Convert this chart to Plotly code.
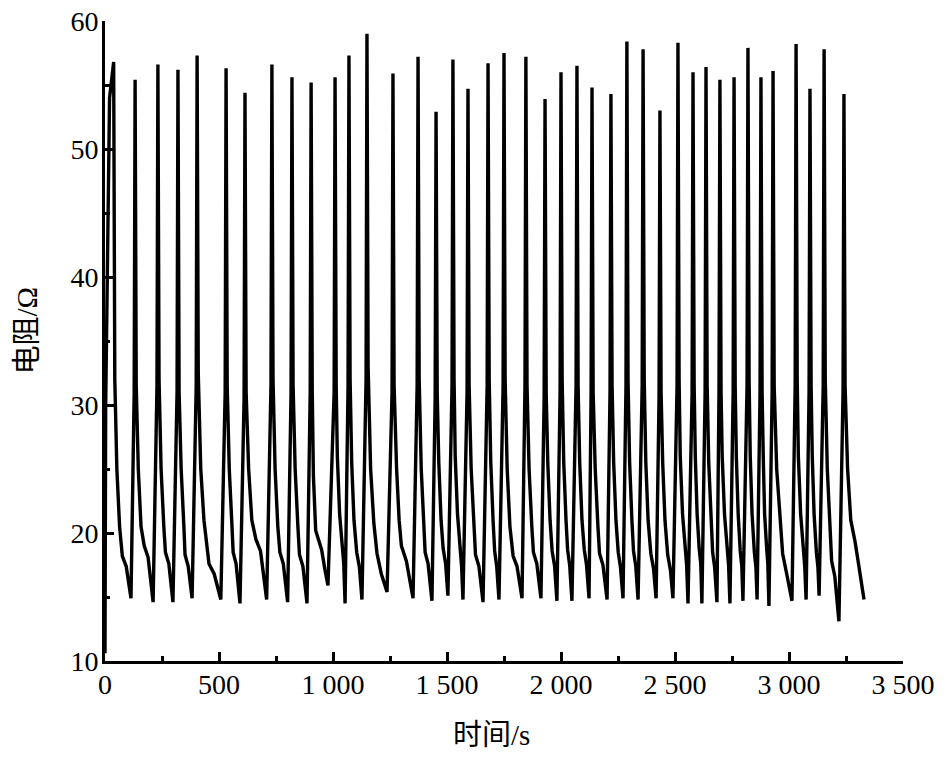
import plotly.graph_objects as go

# ---- data (time in s, resistance in ohm) ----
start_t = [0, 3]
start_r = [10.6, 30]

rise_t = [20, 128, 228, 316, 400, 527, 610, 728, 816, 900, 1005, 1066, 1145, 1259, 1369, 1448, 1522, 1588, 1676, 1746,
          1842, 1926, 1996, 2066, 2132, 2215, 2285, 2356, 2430, 2509, 2575, 2632, 2693, 2755, 2816, 2873, 2926, 3027,
          3088, 3150, 3237]
rise_r = [54, 31, 31.5, 31, 31.5, 31, 30.5, 31.5, 31, 31, 31, 31.5, 32, 31, 31.5, 30.5, 31.5, 31, 31.5, 31.5,
          31.5, 30.5, 31, 31.5, 31, 31, 31.5, 31.5, 30.5, 31.5, 31, 31, 31, 31, 31.5, 31, 31, 31.5, 31, 31.5, 31]

peak_t = [38, 132, 232, 320, 404, 531, 614, 732, 820, 904, 1009, 1070, 1149, 1263, 1373, 1452, 1526, 1592, 1680, 1750,
          1846, 1930, 2000, 2070, 2136, 2219, 2289, 2360, 2434, 2513, 2579, 2636, 2697, 2759, 2820, 2877, 2930, 3031,
          3092, 3154, 3241]
peak_r = [56.8, 55.4, 56.6, 56.2, 57.3, 56.3, 54.4, 56.6, 55.6, 55.2, 55.6, 57.3, 59.0, 55.9, 57.2, 52.9, 57.0, 54.7,
          56.7, 57.5, 57.2, 53.9, 56.0, 56.5, 54.8, 54.3, 58.4, 57.8, 53.0, 58.3, 56.0, 56.4, 55.4, 55.6, 57.9, 55.6,
          56.1, 58.2, 54.7, 57.8, 54.3]

knee_t = [43, 137, 237, 325, 409, 536, 619, 737, 825, 909, 1014, 1075, 1154, 1268, 1378, 1457, 1531, 1597, 1685, 1755,
          1851, 1935, 2005, 2075, 2141, 2224, 2294, 2365, 2439, 2518, 2584, 2641, 2702, 2764, 2825, 2882, 2935, 3036,
          3097, 3159, 3246]
knee_r = [32, 31.5, 32, 31, 32.5, 31.5, 31, 32, 31.5, 31, 31.5, 32, 33, 31.5, 32, 31, 32, 31.5, 32, 32,
          31.5, 31, 32, 31.5, 31, 31.5, 32, 32, 31, 32, 31.5, 31.5, 31, 31.5, 32, 31, 31.5, 32, 31.5, 32, 31.5]

mid_t = [52, 146, 246, 334, 420, 545, 630, 746, 834, 914, 1019, 1082, 1165, 1279, 1387, 1464, 1536, 1606, 1692, 1764,
         1860, 1942, 2012, 2082, 2150, 2231, 2301, 2372, 2446, 2523, 2589, 2648, 2707, 2769, 2830, 2887, 2946, 3041,
         3102, 3168, 3257]
mid_r = [25, 25, 25, 25, 25, 25, 25, 25, 25, 24.5, 26, 25.5, 25, 25, 25, 25.5, 26, 25, 25.5, 25,
         25, 25.5, 25.5, 25.5, 25, 25.5, 25.5, 25.5, 25.5, 26, 26, 25.5, 26, 26, 26, 26, 25, 26, 26, 25, 25]

mid2_t = [64, 158, 258, 346, 434, 557, 644, 758, 846, 924, 1029, 1092, 1179, 1290, 1399, 1474, 1546, 1618, 1702, 1776,
          1872, 1952, 2022, 2092, 2162, 2241, 2311, 2382, 2456, 2533, 2597, 2658, 2717, 2777, 2838, 2893, 2960, 3051,
          3110, 3180, 3271]
mid2_r = [20.5, 20.5, 20.5, 20.5, 21, 20.5, 21, 20.5, 20.5, 20.2, 21.5, 21, 20.8, 21, 20.5, 21, 21.5, 20.5, 21, 20.5,
          20.5, 21, 21, 21, 20.5, 21, 21, 21, 21, 21.5, 21.5, 21, 21.5, 21.5, 21.5, 21.5, 21, 21.5, 21.5, 20.5, 21]

shoulder_t = [76, 172, 265, 351, 456, 562, 662, 767, 853, 950, 1040, 1104, 1193, 1300, 1404, 1483, 1557, 1625, 1709,
              1790, 1879, 1961, 2029, 2102, 2169, 2251, 2318, 2394, 2468, 2544, 2606, 2665, 2728, 2786, 2848, 2902,
              2972, 3062, 3120, 3187, 3290]
shoulder_r = [18.2, 19.0, 18.5, 18.3, 17.6, 18.5, 19.5, 18.5, 18.3, 18.7, 18.8, 18.5, 18.4, 19.0, 18.5, 18.8, 18.6,
              18.3, 18.6, 18.2, 18.5, 18.6, 18.7, 18.7, 18.4, 18.5, 18.6, 18.4, 18.3, 18.7, 18.8, 18.5, 18.7, 18.6,
              18.5, 18.8, 18.4, 18.6, 18.5, 17.8, 19.3]

low_t = [93, 189, 280, 365, 479, 575, 682, 782, 868, 965, 1047, 1116, 1212, 1322, 1417, 1494, 1564, 1640, 1718, 1807,
         1894, 1972, 2038, 2112, 2184, 2261, 2328, 2406, 2480, 2551, 2613, 2674, 2735, 2793, 2855, 2907, 2990, 3069,
         3127, 3201, 3304]
low_r = [17.4, 18.1, 17.6, 17.4, 16.8, 17.6, 18.6, 17.6, 17.4, 17.1, 17.6, 17.3, 16.8, 17.8, 17.6, 17.6, 17.4, 17.4,
         17.4, 17.4, 17.6, 17.4, 17.5, 17.5, 17.5, 17.3, 17.4, 17.2, 17.1, 17.5, 17.6, 17.3, 17.5, 17.4, 17.3, 17.6,
         16.8, 17.4, 17.3, 16.6, 17.7]

valley_t = [114, 211, 298, 382, 508, 592, 709, 801, 886, 978, 1053, 1127, 1237, 1351, 1434, 1504, 1570, 1658, 1728,
            1829, 1912, 1982, 2048, 2123, 2202, 2272, 2338, 2417, 2491, 2557, 2618, 2684, 2741, 2798, 2860, 2912,
            3013, 3075, 3132, 3219, 3329]
valley_r = [14.9, 14.6, 14.6, 14.9, 14.8, 14.5, 14.8, 14.6, 14.5, 15.9, 14.5, 14.8, 15.4, 14.9, 14.7, 15.1, 14.8,
            14.6, 14.8, 14.9, 14.9, 14.7, 14.7, 14.9, 14.8, 14.9, 14.8, 14.9, 14.9, 14.5, 14.5, 14.6, 14.5, 14.7,
            14.8, 14.3, 14.7, 14.8, 15.1, 13.1, 14.8]

x_tick_vals = [0, 500, 1000, 1500, 2000, 2500, 3000, 3500]
x_tick_text = ["0", "500", "1 000", "1 500", "2 000", "2 500", "3 000", "3 500"]
y_tick_vals = [10, 20, 30, 40, 50, 60]
y_tick_text = ["10", "20", "30", "40", "50", "60"]
x_title = "时间/s"
y_title = "电阻/Ω"

# ---- assemble the trace from the read feature points, cycle by cycle ----
t_all = list(start_t)
r_all = list(start_r)
features = [(rise_t, rise_r), (peak_t, peak_r), (knee_t, knee_r), (mid_t, mid_r), (mid2_t, mid2_r),
            (shoulder_t, shoulder_r), (low_t, low_r), (valley_t, valley_r)]
for i in range(len(peak_t)):
    for ts, rs in features:
        t_all.append(ts[i])
        r_all.append(rs[i])

FONT = "Liberation Serif, Times New Roman, Noto Sans CJK SC, serif"

fig = go.Figure()
fig.add_trace(go.Scatter(x=t_all, y=r_all, mode="lines",
                         line=dict(color="black", width=3.4), showlegend=False, hoverinfo="skip"))

axis_common = dict(
    showline=True, linewidth=3, linecolor="black", mirror=False,
    showgrid=False, zeroline=False,
    ticks="inside", ticklen=9, tickwidth=2.5, tickcolor="black",
    tickfont=dict(family=FONT, size=28, color="black"),
    ticklabeloverflow="allow",
)

fig.update_xaxes(
    range=[0, 3500], tickmode="array", tickvals=x_tick_vals, ticktext=x_tick_text,
    ticklabelstandoff=-4,
    minor=dict(ticks="inside", ticklen=5, tickwidth=2.5, tickcolor="black", dtick=250, tick0=0, showgrid=False),
    **axis_common,
)
fig.update_yaxes(
    range=[10, 60], tickmode="array", tickvals=y_tick_vals, ticktext=y_tick_text,
    ticklabelstandoff=-2,
    minor=dict(ticks="inside", ticklen=5, tickwidth=2.5, tickcolor="black", dtick=5, tick0=0, showgrid=False),
    **axis_common,
)

fig.add_annotation(text=x_title, xref="paper", yref="paper", x=0.484, y=-0.116,
                   xanchor="center", yanchor="middle", showarrow=False,
                   font=dict(family=FONT, size=29, color="black"))
fig.add_annotation(text=y_title, xref="paper", yref="paper", x=-0.098, y=0.516,
                   xanchor="center", yanchor="middle", showarrow=False, textangle=-90,
                   font=dict(family=FONT, size=29, color="black"))

# page body margin is removed (post_script below), so the margins map straight onto the window
fig.update_layout(
    width=950, height=760,
    margin=dict(l=105, r=47, t=21, b=99, autoexpand=False),
    plot_bgcolor="white", paper_bgcolor="white",
    font=dict(family=FONT, color="black"),
    showlegend=False,
)

fig.write_html("out.html", config={"displayModeBar": False},
               post_script="document.body.style.margin='0px';")
